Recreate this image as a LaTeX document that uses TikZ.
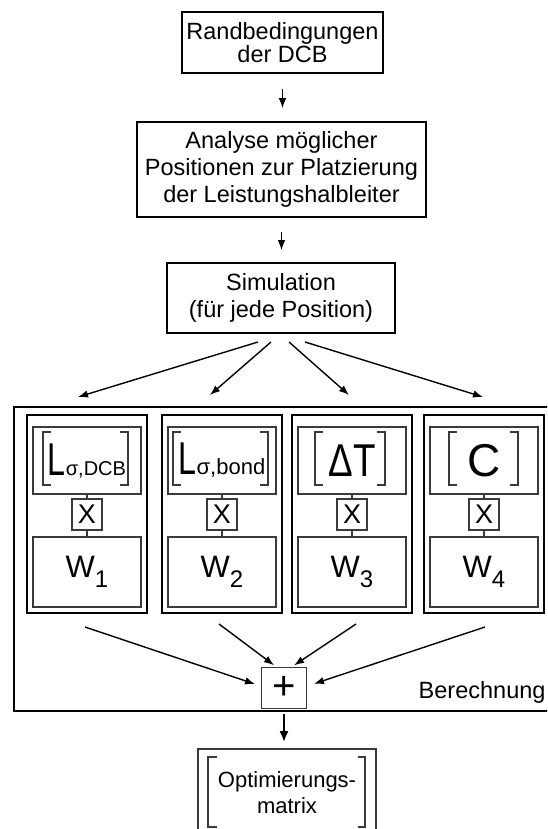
\documentclass[tikz,border=0pt]{standalone}
\usepackage{fontspec}
\setmainfont{Liberation Sans}
\usepackage{graphicx}
\usetikzlibrary{arrows.meta}
\definecolor{FlowBlack}{HTML}{000000}
\definecolor{FlowGray}{HTML}{3A3A3A}
\newcommand\bigsym[2]{\scalebox{#1}[1]{\fontsize{46}{46}\selectfont #2}}
\newcommand\subtxt[2]{{\fontsize{#1}{#1}\selectfont #2}}
\newcommand\wterm[1]{{\fontsize{31}{31}\selectfont W}\raisebox{-10pt}{\fontsize{24}{24}\selectfont #1}}
\tikzset{
  flowbox/.style={draw=FlowBlack,line width=1.6pt,inner sep=0pt,align=center},
  colbox/.style={draw=FlowBlack,line width=2.8pt,minimum width=120pt,minimum height=198pt,inner sep=0pt},
  termbox/.style={draw=FlowGray,line width=1.8pt,minimum width=108pt,minimum height=67pt,inner sep=0pt},
  mulbox/.style={draw=FlowGray,line width=1.6pt,minimum width=30pt,minimum height=31pt,inner sep=0pt,font=\fontsize{27}{27}\selectfont},
  wbox/.style={draw=FlowGray,line width=1.8pt,minimum width=108pt,minimum height=70pt,inner sep=0pt},
  flow/.style={line width=1.4pt,-{Latex[length=10pt,width=7.5pt]}},
  brk/.style={draw=FlowGray,line width=1.3pt}
}

\begin{document}
\begin{tikzpicture}[x=1pt,y=-1pt]
\useasboundingbox (0,0) rectangle (547,829);
\clip (0,0) rectangle (547,829);
\node[flowbox,minimum width=201pt,minimum height=61pt,font=\fontsize{23.5}{21.7}\selectfont] (rand) at (282.5,42.5) {Randbedingungen\\der DCB};
\node[flowbox,minimum width=289pt,minimum height=95pt,font=\fontsize{23.5}{26.7}\selectfont] (analyse) at (281.5,169.5) {Analyse möglicher\\Positionen zur Platzierung\\der Leistungshalbleiter};
\node[flowbox,minimum width=228pt,minimum height=70pt,font=\fontsize{23.5}{27}\selectfont] (sim) at (281,298) {Simulation\\(für jede Position)};
\draw[flow,line width=1.3pt,shorten <=15pt,shorten >=13pt] (rand.south) -- (rand.south |- analyse.north);
\draw[flow,line width=1.3pt,shorten <=14pt,shorten >=12pt] (analyse.south) -- (analyse.south |- sim.north);
\foreach \i/\sx/\ex/\ey in {1/258/78/397,2/271/210/395,3/289/349/395,4/305/483/397} {
  \coordinate (s\i) at (\sx,342);
  \coordinate (e\i) at (\ex,\ey);
  \draw[flow] (s\i) -- (e\i);
}
\node[draw=FlowBlack,line width=2.8pt,minimum width=556pt,minimum height=304pt,inner sep=0pt] (calc) at (292,559) {};
\node[anchor=base east,font=\fontsize{23.5}{23.5}\selectfont] (calclbl) at (549,698) {Berechnung};
\foreach \i/\cx/\term in {1/87/{\bigsym{0.7}{L}\subtxt{20}{σ,DCB}},2/222/{\bigsym{0.7}{L}\subtxt{22}{σ,bond}},3/352/{\bigsym{0.8}{ΔT}},4/484/{\bigsym{1}{C}}} {
  \node[colbox] (col\i) at (\cx,514) {};
  \node[termbox] (term\i) at (\cx,460.5) {\term};
  \node[mulbox] (mul\i) at (\cx,514.5) {X};
  \node[wbox] (w\i) at (\cx,572) {\wterm{\i}};
  \draw[FlowGray,line width=1.5pt] (term\i.south) -- (mul\i.north) (mul\i.south) -- (w\i.north);
}
\foreach \l/\r in {43/128,173/268,315/385,449/518} {
  \draw[brk] ({\l+8},432) -- (\l,432) -- (\l,485) -- ({\l+8},485);
  \draw[brk] ({\r-8},432) -- (\r,432) -- (\r,485) -- ({\r-8},485);
}
\node[draw=FlowGray,line width=1.6pt,minimum width=45pt,minimum height=41pt,inner sep=0pt,font=\fontsize{40}{40}\selectfont] (plus) at (284,688) {+};
\coordinate (p1) at (85,627);
\coordinate (p2) at (219,624);
\coordinate (p3) at (356,624);
\coordinate (p4) at (485,627);
\draw[flow,shorten >=6pt] (p1) -- ([yshift=2pt]plus.west);
\draw[flow,shorten >=2.5pt] (p2) -- ([xshift=-8pt]plus.north);
\draw[flow,shorten >=2.5pt] (p3) -- ([xshift=8pt]plus.north);
\draw[flow,shorten >=7pt] (p4) -- ([yshift=2pt]plus.east);
\node[flowbox,draw=FlowGray,minimum width=178pt,minimum height=88pt,font=\fontsize{22}{26}\selectfont] (opt) at (287,793) {Optimierungs-\\matrix};
\draw[flow,line width=2.2pt,-{Latex[length=11pt,width=9pt]},shorten <=4.5pt,shorten >=6pt] (plus.south) -- (plus.south |- opt.north);
\draw[brk] (217,757) -- (208,757) -- (208,827) -- (217,827);
\draw[brk] (358,757) -- (365,757) -- (365,827) -- (358,827);
\end{tikzpicture}
\end{document}
